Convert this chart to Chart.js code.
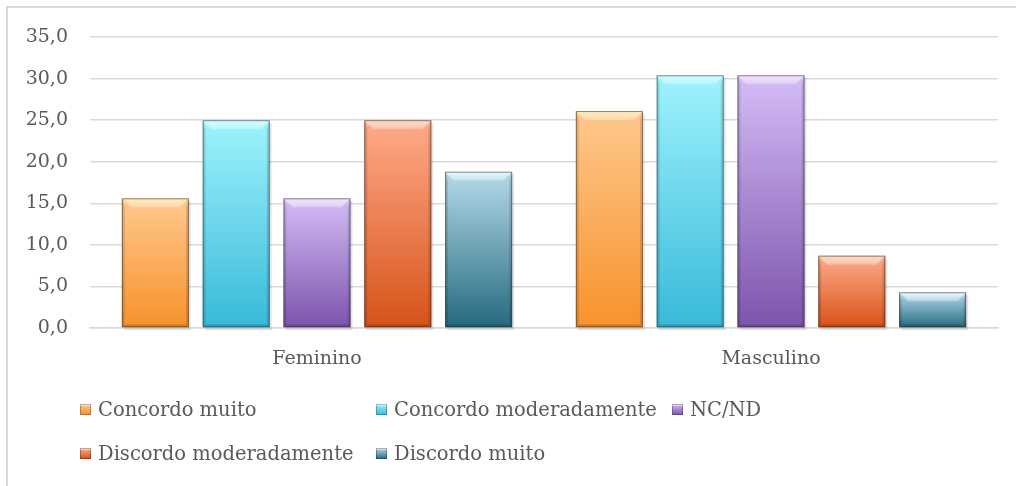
<!DOCTYPE html>
<html>
<head>
<meta charset="utf-8">
<script src="https://cdn.jsdelivr.net/npm/chart.js@4/dist/chart.umd.min.js"></script>
<style>
  html, body { margin: 0; padding: 0; background: #ffffff; }
  #wrap { position: relative; width: 1016px; height: 486px; overflow: hidden; }
  #frame { position: absolute; left: 6px; top: 6px; width: 1100px; height: 600px;
           border-left: 2px solid #d9d9d9; border-top: 2px solid #d9d9d9; }
  #chart { position: absolute; left: 0; top: 0; }
  #legend { position: absolute; left: 80px; top: 387px; width: 930px;
            font-family: "DejaVu Serif", serif; font-size: 19.5px; color: #595959; }
  .row { display: flex; height: 44px; align-items: center; }
  .item { display: flex; align-items: center; width: 296px; white-space: nowrap; }
  .item.last { width: auto; }
  .swatch { width: 11px; height: 11px; margin-right: 7px; flex: none;
            box-shadow: inset 0 0 0 1px rgba(0,0,0,0.25), inset 0 2px 0 rgba(255,255,255,0.5); }
</style>
</head>
<body>
<div id="wrap">
  <div id="frame"></div>
  <canvas id="chart" width="1016" height="486"></canvas>
  <div id="legend"></div>
</div>
<script>
// Percentages of answers by gender
const categories = ['Feminino', 'Masculino'];
const seriesNames = ['Concordo muito', 'Concordo moderadamente', 'NC/ND', 'Discordo moderadamente', 'Discordo muito'];
const concordoMuito = [15.6, 26.1];
const concordoModeradamente = [25.0, 30.4];
const ncNd = [15.6, 30.4];
const discordoModeradamente = [25.0, 8.7];
const discordoMuito = [18.8, 4.3];
const yTickValues = [0, 5, 10, 15, 20, 25, 30, 35];

// light top / dark bottom colour of each series
const palette = [
  ['#ffc88e', '#f7922c'],
  ['#9ff3fd', '#38b9d9'],
  ['#d4bcf6', '#7c54ac'],
  ['#ffab8a', '#d65218'],
  ['#b4daea', '#25697e']
];
// colour of the bevelled top edge
const topFacet = ['#ffe7a8', '#c8fbff', '#eee0ff', '#ffd2bb', '#e0f6ff'];
const seriesValues = [concordoMuito, concordoModeradamente, ncNd, discordoModeradamente, discordoMuito];

function barFill(i) {
  return function (ctx) {
    const chart = ctx.chart;
    const ys = chart.scales && chart.scales.y;
    if (!chart.chartArea || !ys || ctx.type !== 'data') return palette[i][1];
    const top = ys.getPixelForValue(ctx.raw);
    const base = ys.getPixelForValue(0);
    const g = chart.ctx.createLinearGradient(0, top, 0, base);
    g.addColorStop(0, palette[i][0]);
    g.addColorStop(1, palette[i][1]);
    return g;
  };
}

const datasets = seriesNames.map((name, i) => ({
  label: name,
  data: seriesValues[i],
  backgroundColor: barFill(i),
  borderWidth: 0,
  categoryPercentage: 0.89,
  barPercentage: 0.83
}));

const TEXT = '#595959';
const FONT = '"DejaVu Serif", serif';

// bevel highlight / shade drawn over each bar
const bevel = {
  id: 'bevel',
  beforeDatasetsDraw(chart) {
    // soft shadow under the bars
    const c = chart.ctx;
    chart.data.datasets.forEach((ds, di) => {
      chart.getDatasetMeta(di).data.forEach(bar => {
        c.save();
        c.fillStyle = 'rgba(0,0,0,0.10)';
        c.fillRect(bar.x - bar.width / 2 + 2, bar.y + 3, bar.width, bar.base - bar.y);
        c.restore();
      });
    });
  },
  afterDatasetsDraw(chart) {
    const c = chart.ctx;
    chart.data.datasets.forEach((ds, di) => {
      chart.getDatasetMeta(di).data.forEach(bar => {
        const w = bar.width;
        const l = bar.x - w / 2, r = bar.x + w / 2;
        const t = bar.y, b = bar.base;
        const h = b - t;
        const bt = Math.min(9, h / 2.5), bb = Math.min(3, h / 4), bs = 3;
        c.save();
        // top facet
        const gt = c.createLinearGradient(0, t, 0, t + bt);
        gt.addColorStop(0, topFacet[di]);
        gt.addColorStop(1, 'rgba(255,255,255,0.25)');
        c.fillStyle = gt;
        c.beginPath();
        c.moveTo(l, t); c.lineTo(r, t); c.lineTo(r - bt, t + bt); c.lineTo(l + bt, t + bt); c.closePath();
        c.fill();
        // side facets
        c.fillStyle = 'rgba(0,0,0,0.12)';
        c.beginPath();
        c.moveTo(l, t); c.lineTo(l + bs, t + bt); c.lineTo(l + bs, b - bb); c.lineTo(l, b); c.closePath();
        c.fill();
        c.beginPath();
        c.moveTo(r, t); c.lineTo(r - bs, t + bt); c.lineTo(r - bs, b - bb); c.lineTo(r, b); c.closePath();
        c.fill();
        // bottom facet
        c.fillStyle = 'rgba(0,0,0,0.15)';
        c.beginPath();
        c.moveTo(l, b); c.lineTo(r, b); c.lineTo(r - bs, b - bb); c.lineTo(l + bs, b - bb); c.closePath();
        c.fill();
        // edge
        c.strokeStyle = 'rgba(40,40,40,0.5)';
        c.lineWidth = 1;
        c.strokeRect(l + 0.5, t + 0.5, w - 1, h - 1);
        c.restore();
      });
    });
  }
};

const chart = new Chart(document.getElementById('chart'), {
  type: 'bar',
  data: { labels: categories, datasets },
  plugins: [bevel],
  options: {
    responsive: false,
    animation: false,
    layout: { padding: { top: 37, right: 18, bottom: 118, left: 0 } },
    plugins: { legend: { display: false }, tooltip: { enabled: false } },
    scales: {
      x: {
        grid: { display: false },
        border: { color: '#d9d9d9', width: 1.5 },
        ticks: { color: TEXT, font: { family: FONT, size: 19 }, padding: 12 },
        afterFit(scale) { scale.height = 40; }
      },
      y: {
        min: 0, max: 35,
        afterBuildTicks(scale) { scale.ticks = yTickValues.map(v => ({ value: v })); },
        grid: { color: '#d9d9d9', lineWidth: 1.5, drawTicks: false },
        border: { display: false },
        ticks: {
          color: TEXT, font: { family: FONT, size: 19 }, padding: 22,
          callback: v => v.toFixed(1).replace('.', ',')
        },
        afterFit(scale) { scale.width = 90; }
      }
    }
  }
});

// legend laid out in columns, built from the chart's datasets
const legend = document.getElementById('legend');
const rows = [[0, 1, 2], [3, 4]];
rows.forEach(r => {
  const row = document.createElement('div');
  row.className = 'row';
  r.forEach((idx, k) => {
    const item = document.createElement('div');
    item.className = 'item' + (k === r.length - 1 ? ' last' : '');
    const sw = document.createElement('span');
    sw.className = 'swatch';
    sw.style.background = 'linear-gradient(' + palette[idx][0] + ',' + palette[idx][1] + ')';
    const tx = document.createElement('span');
    tx.textContent = chart.data.datasets[idx].label;
    item.appendChild(sw);
    item.appendChild(tx);
    row.appendChild(item);
  });
  legend.appendChild(row);
});
</script>
</body>
</html>
